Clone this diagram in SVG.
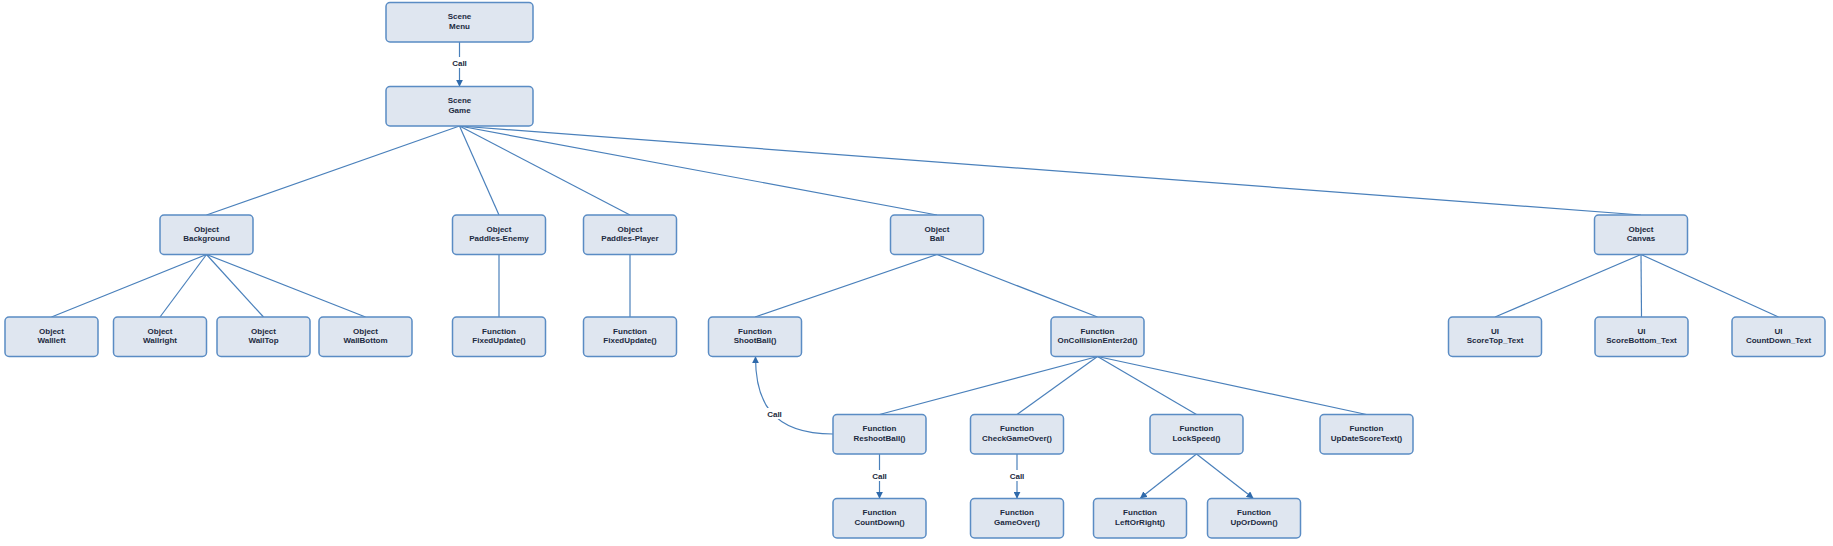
<svg xmlns="http://www.w3.org/2000/svg" width="1833" height="546" viewBox="0 0 1833 546">
<defs>
<style>
.n rect{fill:#dfe6f0;stroke:#5a8cc4;stroke-width:1.5}
.n text{font-family:"Liberation Sans",Arial,sans-serif;font-size:8px;font-weight:bold;fill:#1c2a40;text-anchor:middle}
.c path,.c line{stroke:#4a80bb;stroke-width:1.2;fill:none}
.lbl{font-family:"Liberation Sans",Arial,sans-serif;font-size:8px;font-weight:bold;fill:#1c2a40;text-anchor:middle}
</style>
<marker id="arr" viewBox="0 0 10 10" refX="9" refY="5" markerWidth="7" markerHeight="7" markerUnits="userSpaceOnUse" orient="auto">
<path d="M0,0 L10,5 L0,10 z" fill="#2f6aab"/>
</marker>
</defs>
<rect width="1833" height="546" fill="#ffffff"/>
<g id="connectors" class="c">
<line x1="459.5" y1="42" x2="459.5" y2="86" marker-end="url(#arr)"/>
<line x1="459.5" y1="126" x2="206.5" y2="215"/>
<line x1="459.5" y1="126" x2="499" y2="215"/>
<line x1="459.5" y1="126" x2="630" y2="215"/>
<line x1="459.5" y1="126" x2="937" y2="215"/>
<line x1="459.5" y1="126" x2="1641" y2="215"/>
<line x1="206.5" y1="254.5" x2="51.5" y2="317"/>
<line x1="206.5" y1="254.5" x2="160" y2="317"/>
<line x1="206.5" y1="254.5" x2="263.5" y2="317"/>
<line x1="206.5" y1="254.5" x2="365.5" y2="317"/>
<line x1="499" y1="254.5" x2="499" y2="317"/>
<line x1="630" y1="254.5" x2="630" y2="317"/>
<line x1="937" y1="254.5" x2="755" y2="317"/>
<line x1="937" y1="254.5" x2="1097.5" y2="317"/>
<line x1="1097.5" y1="356.5" x2="879.5" y2="414.5"/>
<line x1="1097.5" y1="356.5" x2="1017" y2="414.5"/>
<line x1="1097.5" y1="356.5" x2="1196.5" y2="414.5"/>
<line x1="1097.5" y1="356.5" x2="1366.5" y2="414.5"/>
<line x1="1641" y1="254.5" x2="1495" y2="317"/>
<line x1="1641" y1="254.5" x2="1641.5" y2="317"/>
<line x1="1641" y1="254.5" x2="1778.5" y2="317"/>
<line x1="879.5" y1="454" x2="879.5" y2="498" marker-end="url(#arr)"/>
<line x1="1017" y1="454" x2="1017" y2="498" marker-end="url(#arr)"/>
<line x1="1196.5" y1="454" x2="1140.5" y2="498" marker-end="url(#arr)"/>
<line x1="1196.5" y1="454" x2="1253" y2="498" marker-end="url(#arr)"/>
<path d="M833,434 C770,434 755.5,400 755.5,357" marker-end="url(#arr)"/>
<rect x="447" y="57" width="25" height="11" fill="#ffffff"/>
<text class="lbl" x="459.5" y="65.5">Call</text>
<rect x="867" y="470" width="25" height="11" fill="#ffffff"/>
<text class="lbl" x="879.5" y="478.5">Call</text>
<rect x="1004.5" y="470" width="25" height="11" fill="#ffffff"/>
<text class="lbl" x="1017" y="478.5">Call</text>
<rect x="762" y="408" width="25" height="11" fill="#ffffff"/>
<text class="lbl" x="774.5" y="416.5">Call</text>
</g>
<g id="scene-menu" class="n"><rect x="386" y="2.5" width="147" height="39.5" rx="4"/><text x="459.5" y="19">Scene</text><text x="459.5" y="28.5">Menu</text></g>
<g id="scene-game" class="n"><rect x="386" y="86.5" width="147" height="39.5" rx="4"/><text x="459.5" y="103">Scene</text><text x="459.5" y="112.5">Game</text></g>
<g id="obj-background" class="n"><rect x="160" y="215" width="93" height="39.5" rx="4"/><text x="206.5" y="231.5">Object</text><text x="206.5" y="241">Background</text></g>
<g id="obj-paddles-enemy" class="n"><rect x="452.5" y="215" width="93" height="39.5" rx="4"/><text x="499" y="231.5">Object</text><text x="499" y="241">Paddles-Enemy</text></g>
<g id="obj-paddles-player" class="n"><rect x="583.5" y="215" width="93" height="39.5" rx="4"/><text x="630" y="231.5">Object</text><text x="630" y="241">Paddles-Player</text></g>
<g id="obj-ball" class="n"><rect x="890.5" y="215" width="93" height="39.5" rx="4"/><text x="937" y="231.5">Object</text><text x="937" y="241">Ball</text></g>
<g id="obj-canvas" class="n"><rect x="1594.5" y="215" width="93" height="39.5" rx="4"/><text x="1641" y="231.5">Object</text><text x="1641" y="241">Canvas</text></g>
<g id="obj-wallleft" class="n"><rect x="5" y="317" width="93" height="39.5" rx="4"/><text x="51.5" y="333.5">Object</text><text x="51.5" y="343">Wallleft</text></g>
<g id="obj-wallright" class="n"><rect x="113.5" y="317" width="93" height="39.5" rx="4"/><text x="160" y="333.5">Object</text><text x="160" y="343">Wallright</text></g>
<g id="obj-walltop" class="n"><rect x="217" y="317" width="93" height="39.5" rx="4"/><text x="263.5" y="333.5">Object</text><text x="263.5" y="343">WallTop</text></g>
<g id="obj-wallbottom" class="n"><rect x="319" y="317" width="93" height="39.5" rx="4"/><text x="365.5" y="333.5">Object</text><text x="365.5" y="343">WallBottom</text></g>
<g id="fn-fixedupdate-enemy" class="n"><rect x="452.5" y="317" width="93" height="39.5" rx="4"/><text x="499" y="333.5">Function</text><text x="499" y="343">FixedUpdate()</text></g>
<g id="fn-fixedupdate-player" class="n"><rect x="583.5" y="317" width="93" height="39.5" rx="4"/><text x="630" y="333.5">Function</text><text x="630" y="343">FixedUpdate()</text></g>
<g id="fn-shootball" class="n"><rect x="708.5" y="317" width="93" height="39.5" rx="4"/><text x="755" y="333.5">Function</text><text x="755" y="343">ShootBall()</text></g>
<g id="fn-oncollision" class="n"><rect x="1051" y="317" width="93" height="39.5" rx="4"/><text x="1097.5" y="333.5">Function</text><text x="1097.5" y="343">OnCollisionEnter2d()</text></g>
<g id="ui-scoretop" class="n"><rect x="1448.5" y="317" width="93" height="39.5" rx="4"/><text x="1495" y="333.5">UI</text><text x="1495" y="343">ScoreTop_Text</text></g>
<g id="ui-scorebottom" class="n"><rect x="1595" y="317" width="93" height="39.5" rx="4"/><text x="1641.5" y="333.5">UI</text><text x="1641.5" y="343">ScoreBottom_Text</text></g>
<g id="ui-countdown" class="n"><rect x="1732" y="317" width="93" height="39.5" rx="4"/><text x="1778.5" y="333.5">UI</text><text x="1778.5" y="343">CountDown_Text</text></g>
<g id="fn-reshootball" class="n"><rect x="833" y="414.5" width="93" height="39.5" rx="4"/><text x="879.5" y="431">Function</text><text x="879.5" y="440.5">ReshootBall()</text></g>
<g id="fn-checkgameover" class="n"><rect x="970.5" y="414.5" width="93" height="39.5" rx="4"/><text x="1017" y="431">Function</text><text x="1017" y="440.5">CheckGameOver()</text></g>
<g id="fn-lockspeed" class="n"><rect x="1150" y="414.5" width="93" height="39.5" rx="4"/><text x="1196.5" y="431">Function</text><text x="1196.5" y="440.5">LockSpeed()</text></g>
<g id="fn-updatescoretext" class="n"><rect x="1320" y="414.5" width="93" height="39.5" rx="4"/><text x="1366.5" y="431">Function</text><text x="1366.5" y="440.5">UpDateScoreText()</text></g>
<g id="fn-countdown" class="n"><rect x="833" y="498.5" width="93" height="39.5" rx="4"/><text x="879.5" y="515">Function</text><text x="879.5" y="524.5">CountDown()</text></g>
<g id="fn-gameover" class="n"><rect x="970.5" y="498.5" width="93" height="39.5" rx="4"/><text x="1017" y="515">Function</text><text x="1017" y="524.5">GameOver()</text></g>
<g id="fn-leftorright" class="n"><rect x="1093.5" y="498.5" width="93" height="39.5" rx="4"/><text x="1140" y="515">Function</text><text x="1140" y="524.5">LeftOrRight()</text></g>
<g id="fn-upordown" class="n"><rect x="1207.5" y="498.5" width="93" height="39.5" rx="4"/><text x="1254" y="515">Function</text><text x="1254" y="524.5">UpOrDown()</text></g>
</svg>
